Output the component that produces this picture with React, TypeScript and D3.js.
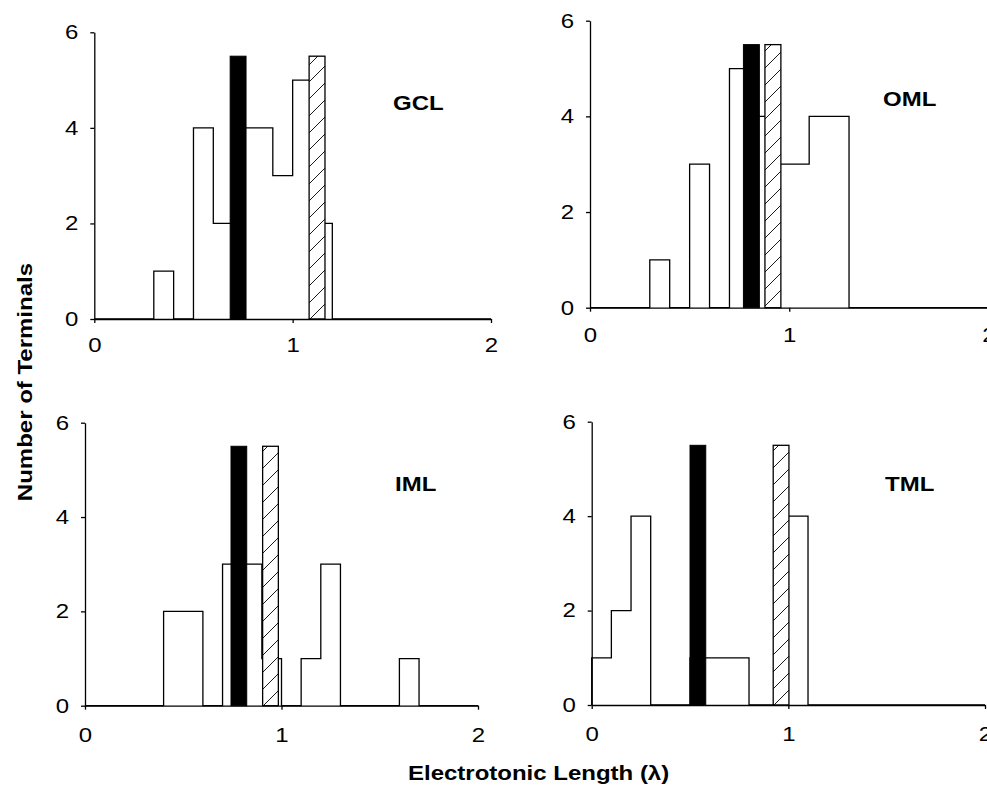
import React, { useEffect, useRef } from 'react';
import * as d3 from 'd3';

// histogram bins (lower edge, width 0.1 lambda)
const binStarts = [0, 0.1, 0.2, 0.3, 0.4, 0.5, 0.6, 0.7, 0.8, 0.9, 1.0, 1.1, 1.2, 1.3, 1.4, 1.5, 1.6, 1.7, 1.8, 1.9];
const binWidth = 0.1;

const gclCounts = [0, 0, 0, 1, 0, 4, 2, 4, 4, 3, 5, 2, 0, 0, 0, 0, 0, 0, 0, 0];
const omlCounts = [0, 0, 0, 1, 0, 3, 0, 5, 4, 3, 3, 4, 4, 0, 0, 0, 0, 0, 0, 0];
const imlCounts = [0, 0, 0, 0, 2, 2, 0, 3, 3, 1, 0, 1, 3, 0, 0, 0, 1, 0, 0, 0];
const tmlCounts = [1, 2, 4, 0, 0, 1, 1, 1, 0, 0, 4, 0, 0, 0, 0, 0, 0, 0, 0, 0];

const panelNames = ['GCL', 'OML', 'IML', 'TML'];
const solidMarkers = [0.725, 0.81, 0.783, 0.54];
const hatchMarkers = [1.123, 0.918, 0.944, 0.963];
const markerHeight = 5.5;
const markerWidth = 0.08;

const xTicks = [0, 1, 2];
const yTicks = [0, 2, 4, 6];

const xTitle = 'Electrotonic Length (λ)';
const yTitle = 'Number of Terminals';

const W = 987;
const H = 789;
const FONT = '"Liberation Sans", Arial, sans-serif';

export default function App() {
    const svgRef = useRef<SVGSVGElement>(null);

    useEffect(() => {
        const svg = d3.select(svgRef.current);
        svg.selectAll('*').remove();

        const defs = svg.append('defs');
        const pat = defs.append('pattern')
            .attr('id', 'hatch')
            .attr('patternUnits', 'userSpaceOnUse')
            .attr('width', 17)
            .attr('height', 17);
        pat.append('rect').attr('width', 17).attr('height', 17).attr('fill', 'white');
        pat.append('path')
            .attr('d', 'M0,17 L17,0 M-4,4 L4,-4 M13,21 L21,13')
            .attr('stroke', 'black')
            .attr('stroke-width', 0.9);

        const counts = [gclCounts, omlCounts, imlCounts, tmlCounts];

        // pixel frames of the 4 panels
        const frames = [
            { x0: 94.3, x2: 491, y0: 319, y6: 32.3, lx: 393, ly: 110, pad: 15 },
            { x0: 590, x2: 988.5, y0: 307.7, y6: 20.7, lx: 883, ly: 106, pad: 16 },
            { x0: 85, x2: 478, y0: 705.7, y6: 422.7, lx: 395, ly: 491, pad: 18 },
            { x0: 591.7, x2: 985, y0: 705, y6: 421.7, lx: 885, ly: 491, pad: 18 },
        ];

        frames.forEach((f, i) => {
            const x = d3.scaleLinear().domain([0, 2]).range([f.x0, f.x2]);
            const y = d3.scaleLinear().domain([0, 6]).range([f.y0, f.y6]);
            const g = svg.append('g');

            // histogram outline (step silhouette)
            const pts: [number, number][] = [[0, 0]];
            binStarts.forEach((b, k) => {
                pts.push([b, counts[i][k]]);
                pts.push([b + binWidth, counts[i][k]]);
            });
            pts.push([binStarts[binStarts.length - 1] + binWidth, 0]);

            const line = d3.line<[number, number]>()
                .x(d => x(d[0]))
                .y(d => y(d[1]));

            g.append('path')
                .attr('d', line(pts))
                .attr('fill', 'none')
                .attr('stroke', 'black')
                .attr('stroke-width', 1.3)
                .attr('stroke-linejoin', 'miter');

            // mean markers
            g.append('rect')
                .attr('x', x(solidMarkers[i] - markerWidth / 2))
                .attr('y', y(markerHeight))
                .attr('width', x(markerWidth) - x(0))
                .attr('height', y(0) - y(markerHeight))
                .attr('fill', 'black')
                .attr('stroke', 'black')
                .attr('stroke-width', 1);

            g.append('rect')
                .attr('x', x(hatchMarkers[i] - markerWidth / 2))
                .attr('y', y(markerHeight))
                .attr('width', x(markerWidth) - x(0))
                .attr('height', y(0) - y(markerHeight))
                .attr('fill', 'url(#hatch)')
                .attr('stroke', 'black')
                .attr('stroke-width', 1.3);

            // axes
            const xAxis = d3.axisBottom(x).tickValues(xTicks).tickFormat(d3.format('d'))
                .tickSize(4).tickSizeOuter(0).tickPadding(f.pad);
            const yAxis = d3.axisLeft(y).tickValues(yTicks).tickFormat(d3.format('d'))
                .tickSize(4).tickSizeOuter(0).tickPadding(13);

            const xg = g.append('g').attr('transform', `translate(0, ${f.y0})`).call(xAxis);
            const yg = g.append('g').attr('transform', `translate(${f.x0}, 0)`).call(yAxis);

            [xg, yg].forEach(ag => {
                ag.select('.domain').attr('stroke', 'black').attr('stroke-width', 1.3);
                ag.selectAll('.tick line').attr('stroke', 'black').attr('stroke-width', 1.3);
                ag.selectAll('.tick text')
                    .attr('fill', 'black')
                    .style('font-family', FONT)
                    .style('font-size', '20px')
                    .style('transform-box', 'fill-box')
                    .style('transform-origin', 'center')
                    .style('transform', 'scaleX(1.2)');
            });

            g.append('text')
                .attr('transform', `translate(${f.lx}, ${f.ly}) scale(1.2, 1)`)
                .style('font-family', FONT)
                .style('font-size', '20px')
                .style('font-weight', 'bold')
                .text(panelNames[i]);
        });

        svg.append('text')
            .attr('transform', 'translate(408, 780) scale(1.2, 1)')
            .style('font-family', FONT)
            .style('font-size', '20px')
            .style('font-weight', 'bold')
            .text(xTitle);

        svg.append('text')
            .attr('transform', 'translate(31.5, 263) rotate(-90) scale(1.2, 1)')
            .attr('text-anchor', 'end')
            .style('font-family', FONT)
            .style('font-size', '20px')
            .style('font-weight', 'bold')
            .text(yTitle);
    }, []);

    return (
        <div style={{ position: 'absolute', left: 0, top: 0, width: W, height: H, background: 'white' }}>
            <svg ref={svgRef} width={W} height={H} style={{ display: 'block' }}></svg>
        </div>
    );
}
